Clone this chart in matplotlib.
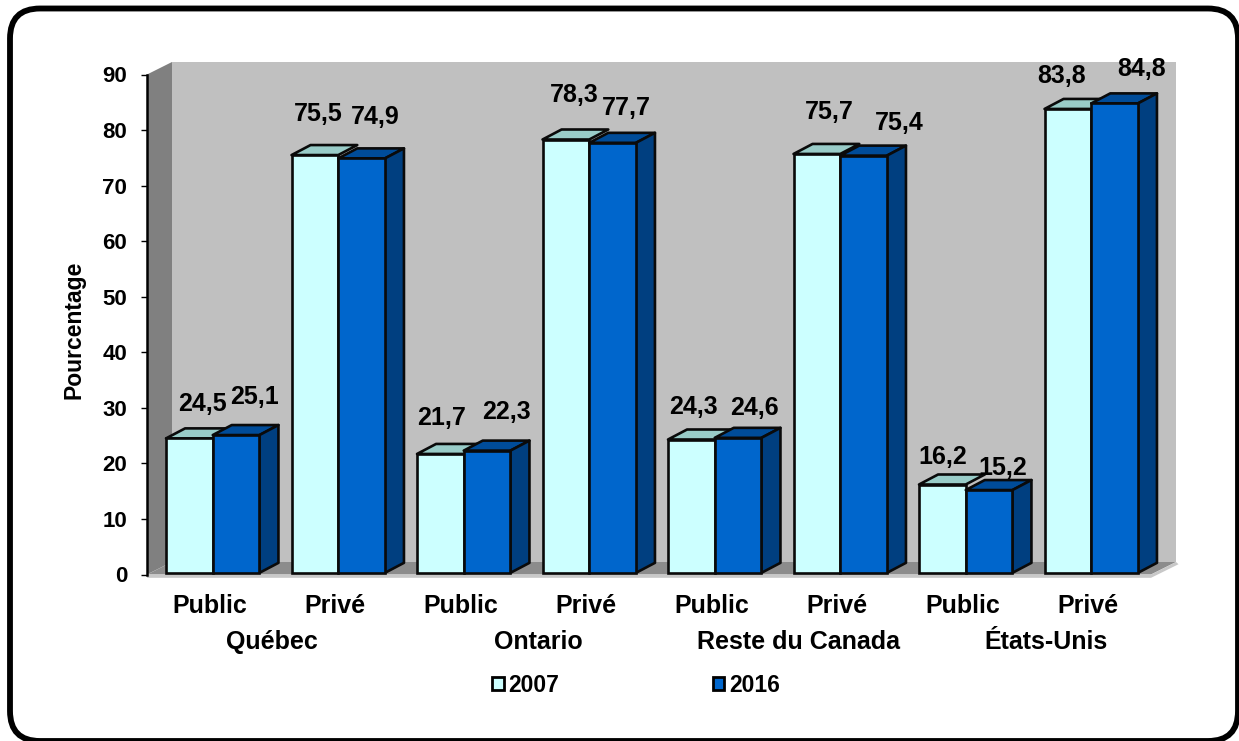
import numpy as np
import matplotlib
matplotlib.use("Agg")
import matplotlib.pyplot as plt
from matplotlib.patches import FancyBboxPatch, Polygon, Rectangle

plt.rcParams["font.family"] = ["Liberation Sans", "DejaVu Sans"]
plt.rcParams["font.weight"] = "bold"

# data
sectors = ["Public", "Privé", "Public", "Privé", "Public", "Privé", "Public", "Privé"]
regions = ["Québec", "Ontario", "Reste du Canada", "États-Unis"]
years = ["2007", "2016"]
v2007 = [24.5, 75.5, 21.7, 78.3, 24.3, 75.7, 16.2, 83.8]
v2016 = [25.1, 74.9, 22.3, 77.7, 24.6, 75.4, 15.2, 84.8]
yticks = list(range(0, 100, 10))

# value labels were placed by hand, offsets in pixels from the top of the bar front
off2007 = [(13, 34), (3, 41), (1, 36), (8, 45), (2, 32), (12, 42), (0, 28), (-6, 33)]
off2016 = [(18, 38), (14, 41), (19, 39), (14, 35), (16, 30), (36, 33), (14, 22), (27, 34)]
region_off = [-1, 15, 24, 21]

W, H = 1239, 741
DPI = 100
LEFT, RIGHT, BOTTOM, TOP = 147, 1151, 574.5, 74.5

C_LIGHT, C_LIGHT_TOP = "#CCFFFF", "#99CCC8"
C_BLUE, C_BLUE_TOP, C_BLUE_SIDE = "#0066CC", "#004C99", "#003F80"

fig = plt.figure(figsize=(W / DPI, H / DPI), dpi=DPI, facecolor="white")

# rounded frame around the whole slide, its right and bottom edges run off the page
bg = fig.add_axes([0, 0, 1, 1])
bg.set_xlim(0, W)
bg.set_ylim(H, 0)
bg.axis("off")
bg.add_patch(FancyBboxPatch((40, 38.5), 1168, 672.5,
                            boxstyle="round,pad=30,rounding_size=30",
                            fc="white", ec="black", lw=4.2))

ax = fig.add_axes([LEFT / W, 1 - BOTTOM / H, (RIGHT - LEFT) / W, (BOTTOM - TOP) / H])
ax.set_xlim(0, len(sectors))
ax.set_ylim(0, 90)
ax.patch.set_alpha(0)

# depth of the 3D effect in data units
xunit = (RIGHT - LEFT) / 8
yunit = (BOTTOM - TOP) / 90
wall_dx = 25 / xunit
wall_dy = 12.5 / yunit
bar_dx = 19 / xunit
bar_dy = 10 / yunit
xmax = len(sectors)
# the bars sit slightly above the zero tick
base = 0.3


def poly(pts, fc, ec="none", lw=0, z=1):
    ax.add_patch(Polygon(pts, closed=True, fc=fc, ec=ec, lw=lw, zorder=z,
                         clip_on=False, joinstyle="round"))


# walls and floor
poly([(wall_dx, wall_dy), (xmax + wall_dx, wall_dy), (xmax + wall_dx, 90 + wall_dy),
      (wall_dx, 90 + wall_dy)], "#C0C0C0")
poly([(0, 0), (wall_dx, wall_dy), (wall_dx, 90 + wall_dy), (0, 90)], "#808080")
poly([(0, 0), (wall_dx, wall_dy), (xmax + wall_dx, wall_dy), (xmax, 0)], "#8C8C8C")
poly([(0, 0), (xmax, 0), (xmax + wall_dx, wall_dy), (xmax + wall_dx + 0.02, wall_dy - 0.4),
      (xmax, -0.6), (0, -0.6)], "#C8C8C8")

xt = np.arange(len(sectors)) + 0.5
x = xt + 3 / xunit
bw = 46.7 / xunit
line = 1.9

z = 3
for i in range(len(sectors)):
    x0 = x[i] - bw
    x1 = x[i]
    x2 = x[i] + bw
    a, b = v2007[i], v2016[i]
    # light bar: top face only, the side is hidden by its neighbour
    poly([(x0, a), (x0 + bar_dx, a + bar_dy), (x1 + bar_dx, a + bar_dy), (x1, a)],
         C_LIGHT_TOP, "#0A0A0A", line, z)
    ax.bar(x0, a - base, bw, bottom=base, align="edge", color=C_LIGHT, edgecolor="#0A0A0A",
           linewidth=line, zorder=z + 1, clip_on=False)
    poly([(x1, b), (x1 + bar_dx, b + bar_dy), (x2 + bar_dx, b + bar_dy), (x2, b)],
         C_BLUE_TOP, "#0A0A0A", line, z + 2)
    poly([(x2, base), (x2 + bar_dx, base + bar_dy), (x2 + bar_dx, b + bar_dy), (x2, b)],
         C_BLUE_SIDE, "#0A0A0A", line, z + 2)
    ax.bar(x1, b - base, bw, bottom=base, align="edge", color=C_BLUE, edgecolor="#0A0A0A",
           linewidth=line, zorder=z + 3, clip_on=False)
    z += 4

px = 72 / DPI
for i in range(len(sectors)):
    for vals, off, cx in ((v2007, off2007, x[i] - bw / 2), (v2016, off2016, x[i] + bw / 2)):
        ax.annotate(f"{vals[i]:.1f}".replace(".", ","), (cx, vals[i]),
                    xytext=(off[i][0] * px, off[i][1] * px), textcoords="offset points",
                    ha="center", va="center", fontsize=18, color="black",
                    zorder=100, annotation_clip=False)

# axes
for s in ("top", "right", "bottom"):
    ax.spines[s].set_visible(False)
ax.spines["left"].set_linewidth(1.8)
ax.spines["left"].set_zorder(60)
ax.set_yticks(yticks)
ax.tick_params(axis="y", length=4.3, width=1.0, labelsize=16, pad=10)
ax.set_xticks(xt)
ax.set_xticklabels(sectors, fontsize=18)
ax.tick_params(axis="x", length=0, pad=14)
ax.set_ylabel("Pourcentage", fontsize=16.5, fontweight="bold", labelpad=12, y=0.489)

for j, name in enumerate(regions):
    ax.annotate(name, (2 * j + 1, 0), xytext=(region_off[j] * px, -67.5 * px),
                textcoords="offset points", ha="center", va="center", fontsize=18)

handles = [Rectangle((0, 0), 1, 1, fc=C_LIGHT, ec="black", lw=2.0),
           Rectangle((0, 0), 1, 1, fc=C_BLUE, ec="black", lw=2.0)]
fig.legend(handles, years, ncol=2, frameon=False, fontsize=16.5,
           loc="center", bbox_to_anchor=(636 / W, 1 - 685 / H),
           handlelength=0.5, handleheight=0.5, handletextpad=0.2, columnspacing=6.7)

fig.savefig("out.png", dpi=DPI)
